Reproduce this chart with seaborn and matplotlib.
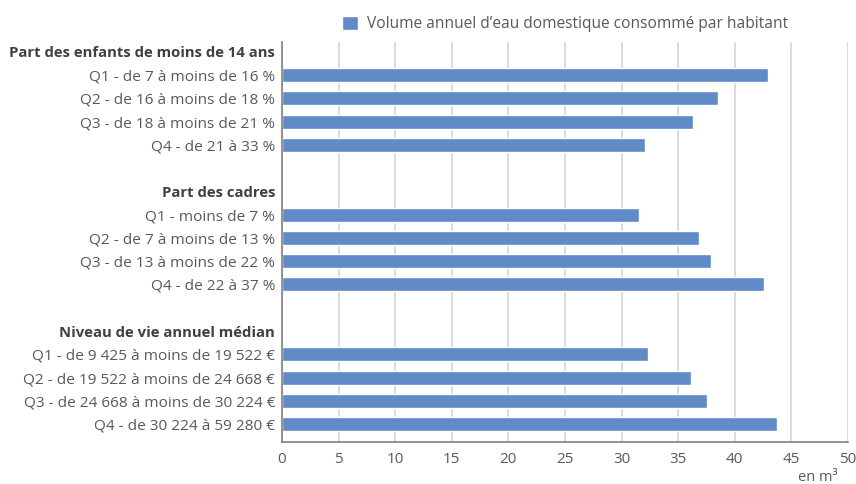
import matplotlib
matplotlib.use("Agg")
import matplotlib.pyplot as plt
import seaborn as sns
import pandas as pd
import numpy as np

# Data
groups = ["Part des enfants de moins de 14 ans", "Part des cadres", "Niveau de vie annuel médian"]
labels_g1 = ["Q1 - de 7 à moins de 16 %", "Q2 - de 16 à moins de 18 %",
             "Q3 - de 18 à moins de 21 %", "Q4 - de 21 à 33 %"]
labels_g2 = ["Q1 - moins de 7 %", "Q2 - de 7 à moins de 13 %",
             "Q3 - de 13 à moins de 22 %", "Q4 - de 22 à 37 %"]
labels_g3 = ["Q1 - de 9 425 à moins de 19 522 €", "Q2 - de 19 522 à moins de 24 668 €",
             "Q3 - de 24 668 à moins de 30 224 €", "Q4 - de 30 224 à 59 280 €"]
values_g1 = [42.9, 38.5, 36.3, 32.1]
values_g2 = [31.5, 36.8, 37.9, 42.6]
values_g3 = [32.3, 36.1, 37.5, 43.7]
series_name = "Volume annuel d\u2019eau domestique consommé par habitant"
x_ticks = [0, 5, 10, 15, 20, 25, 30, 35, 40, 45, 50]

# Build table with header rows and blank spacer rows
rows, vals, kinds = [], [], []
for gi, (g, labs, vs) in enumerate(zip(groups, [labels_g1, labels_g2, labels_g3],
                                       [values_g1, values_g2, values_g3])):
    if gi > 0:
        rows.append(" " * gi); vals.append(np.nan); kinds.append("blank")
    rows.append(g); vals.append(np.nan); kinds.append("header")
    for l, v in zip(labs, vs):
        rows.append(l); vals.append(v); kinds.append("item")
df = pd.DataFrame({"cat": rows, "val": vals, "serie": series_name})

sns.set_theme(style="white")
plt.rcParams["font.family"] = ["Open Sans", "DejaVu Sans"]

text_col = "#595959"
bar_col = "#618BC7"

fig = plt.figure(figsize=(8.56, 4.84), dpi=100)
ax = fig.add_axes([282/856, 1 - 442/484, (848-282)/856, (442-42)/484])

sns.barplot(data=df, y="cat", x="val", hue="serie", order=rows,
            palette=[bar_col], width=0.6, ax=ax, orient="h", legend=True,
            saturation=1)

ax.set_xlim(0, 50)
ax.set_ylim(16.77, -0.42)
ax.set_xticks(x_ticks)
ax.set_xticklabels([str(t) for t in x_ticks], fontsize=11, color=text_col)
ax.xaxis.grid(True, color="#D9D9D9", linewidth=1.3)
ax.set_axisbelow(True)
ax.set_xlabel("")
ax.set_ylabel("")
ax.tick_params(axis="both", length=0)
ax.tick_params(axis="y", pad=5)
ax.tick_params(axis="x", pad=7)

ax.set_yticks(range(len(rows)))
ax.set_yticklabels(rows)
for lbl, k in zip(ax.get_yticklabels(), kinds):
    if k == "header":
        lbl.set_fontsize(10.7)
        lbl.set_fontweight("bold")
        lbl.set_color("#404040")
    else:
        lbl.set_fontsize(11.1)
        lbl.set_color(text_col)

for s in ["top", "right"]:
    ax.spines[s].set_visible(False)
for s in ["left", "bottom"]:
    ax.spines[s].set_color("#808080")
    ax.spines[s].set_linewidth(1.2)

leg = ax.legend(loc="lower center", bbox_to_anchor=(0.5, 1.0), frameon=False,
                fontsize=11.2, handlelength=1.0, handleheight=1.0,
                borderaxespad=0.25, handletextpad=0.6)
for t in leg.get_texts():
    t.set_color(text_col)

fig.text(838/856, 1 - 481/484, "en m³", ha="right", va="baseline",
         fontsize=10.5, color=text_col)

fig.savefig("out.png", dpi=100)
